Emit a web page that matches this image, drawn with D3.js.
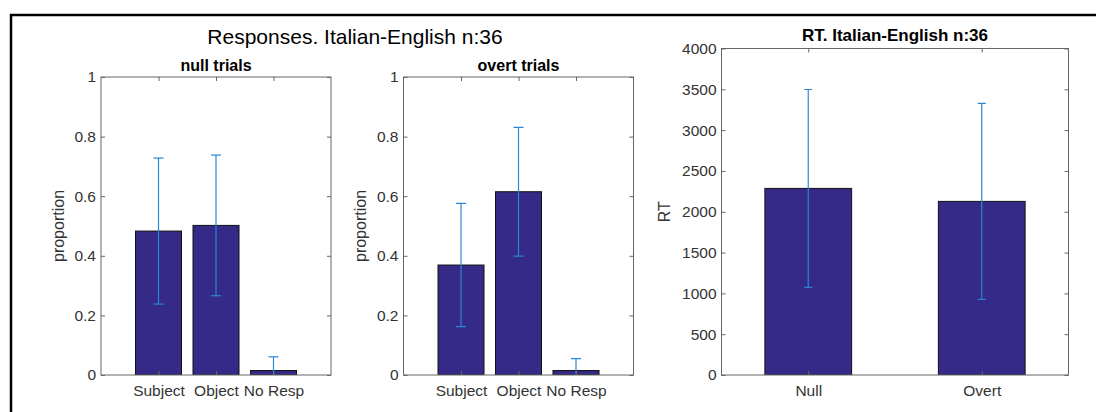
<!DOCTYPE html>
<html>
<head>
<meta charset="utf-8">
<script src="https://cdn.jsdelivr.net/npm/d3@7"></script>
<style>
  html, body { margin: 0; padding: 0; background: #fff; }
  svg { display: block; font-family: "Liberation Sans", Arial, Helvetica, sans-serif; }
</style>
</head>
<body>
<svg id="chart" width="1096" height="412"></svg>
<script>
// Response categories and their proportions (mean ± error)
const respCategories = ["Subject", "Object", "No Resp"];
const nullMeans  = [0.483, 0.502, 0.015];
const nullErr    = [0.245, 0.236, 0.046];
const overtMeans = [0.369, 0.615, 0.015];
const overtErr   = [0.207, 0.216, 0.040];
const propTicks  = [0, 0.2, 0.4, 0.6, 0.8, 1];

// Reaction times by condition
const rtCategories = ["Null", "Overt"];
const rtMeans = [2286, 2127];
const rtErr   = [1212, 1200];
const rtTicks = [0, 500, 1000, 1500, 2000, 2500, 3000, 3500, 4000];

const barFill = "#352a87";
const errColor = "#2b86d6";
const axisColor = "#666";
const textColor = "#333";
const tickFont = 15.5;

const svg = d3.select("#chart");

// outer frame
svg.append("rect")
  .attr("x", 11).attr("y", 15).attr("width", 1100).attr("height", 420)
  .attr("fill", "none").attr("stroke", "#000").attr("stroke-width", 2.5);

svg.append("text")
  .attr("x", 355).attr("y", 44)
  .attr("text-anchor", "middle")
  .attr("font-size", 21)
  .attr("fill", "#000")
  .text("Responses. Italian-English n:36");

function panel(opts) {
  const { left, right, top, bottom, cats, means, errs, xDomain, barWidth,
          yDomain, ticks, title, titleY, titleSize, ylabel, ylabelX, capHalf, tickFmt } = opts;
  const g = svg.append("g");
  const x = d3.scaleLinear().domain(xDomain).range([left, right]);
  const y = d3.scaleLinear().domain(yDomain).range([bottom, top]);
  const clipId = "clip" + Math.round(left);
  svg.append("clipPath").attr("id", clipId)
    .append("rect").attr("x", left).attr("y", top)
    .attr("width", right - left).attr("height", bottom - top);

  const plot = g.append("g").attr("clip-path", `url(#${clipId})`);
  const idx = cats.map((c, i) => i + 1);

  // bars
  plot.selectAll("rect.bar").data(idx).join("rect")
    .attr("class", "bar")
    .attr("x", d => x(d - barWidth / 2))
    .attr("width", d => x(d + barWidth / 2) - x(d - barWidth / 2))
    .attr("y", d => y(means[d - 1]))
    .attr("height", d => y(0) - y(means[d - 1]))
    .attr("fill", barFill)
    .attr("stroke", "#111")
    .attr("stroke-width", 1);

  // error bars
  const eb = plot.selectAll("g.err").data(idx).join("g").attr("class", "err")
    .attr("stroke", errColor).attr("stroke-width", 1.2);
  eb.append("line")
    .attr("x1", d => x(d)).attr("x2", d => x(d))
    .attr("y1", d => y(means[d - 1] + errs[d - 1]))
    .attr("y2", d => y(means[d - 1] - errs[d - 1]));
  eb.append("line")
    .attr("x1", d => x(d) - capHalf).attr("x2", d => x(d) + capHalf)
    .attr("y1", d => y(means[d - 1] + errs[d - 1]))
    .attr("y2", d => y(means[d - 1] + errs[d - 1]));
  eb.append("line")
    .attr("x1", d => x(d) - capHalf).attr("x2", d => x(d) + capHalf)
    .attr("y1", d => y(means[d - 1] - errs[d - 1]))
    .attr("y2", d => y(means[d - 1] - errs[d - 1]));

  // axes with inward ticks on all four sides
  const tl = 4;
  const axL = d3.axisLeft(y).tickValues(ticks).tickSize(-tl).tickPadding(5).tickFormat(tickFmt);
  const axR = d3.axisRight(y).tickValues(ticks).tickSize(-tl).tickFormat("");
  const axB = d3.axisBottom(x).tickValues(idx).tickSize(-tl).tickPadding(10)
    .tickFormat(d => cats[d - 1]);
  const axT = d3.axisTop(x).tickValues(idx).tickSize(-tl).tickFormat("");

  const styleAxis = sel => {
    sel.selectAll("path.domain").attr("stroke", axisColor);
    sel.selectAll(".tick line").attr("stroke", axisColor);
    sel.selectAll(".tick text").attr("fill", textColor)
      .attr("font-size", tickFont).attr("font-family", "Liberation Sans, Arial, sans-serif");
  };
  g.append("g").attr("transform", `translate(${left},0)`).call(axL).call(styleAxis);
  g.append("g").attr("transform", `translate(${right},0)`).call(axR).call(styleAxis);
  g.append("g").attr("transform", `translate(0,${bottom})`).call(axB).call(styleAxis);
  g.append("g").attr("transform", `translate(0,${top})`).call(axT).call(styleAxis);
  g.selectAll("path.domain").attr("d", null);
  g.append("rect").attr("x", left).attr("y", top)
    .attr("width", right - left).attr("height", bottom - top)
    .attr("fill", "none").attr("stroke", axisColor).attr("stroke-width", 1);

  g.append("text")
    .attr("x", (left + right) / 2).attr("y", titleY)
    .attr("text-anchor", "middle").attr("font-weight", "bold")
    .attr("font-size", titleSize).attr("fill", "#000")
    .text(title);

  g.append("text")
    .attr("transform", `translate(${ylabelX},${(top + bottom) / 2}) rotate(-90)`)
    .attr("text-anchor", "middle").attr("font-size", 16).attr("fill", textColor)
    .text(ylabel);
}

const propFmt = d => d === 0 ? "0" : d === 1 ? "1" : d3.format(".1f")(d);

panel({
  left: 101, right: 331, top: 77, bottom: 375,
  cats: respCategories, means: nullMeans, errs: nullErr,
  xDomain: [0, 4], barWidth: 0.8, yDomain: [0, 1], ticks: propTicks,
  title: "null trials", titleY: 71, titleSize: 16, ylabel: "proportion", ylabelX: 64,
  capHalf: 5, tickFmt: propFmt
});

panel({
  left: 403.5, right: 633.5, top: 77, bottom: 375,
  cats: respCategories, means: overtMeans, errs: overtErr,
  xDomain: [0, 4], barWidth: 0.8, yDomain: [0, 1], ticks: propTicks,
  title: "overt trials", titleY: 71, titleSize: 16, ylabel: "proportion", ylabelX: 366,
  capHalf: 5, tickFmt: propFmt
});

panel({
  left: 721.5, right: 1068.5, top: 48.5, bottom: 375,
  cats: rtCategories, means: rtMeans, errs: rtErr,
  xDomain: [0.5, 2.5], barWidth: 0.5, yDomain: [0, 4000], ticks: rtTicks,
  title: "RT. Italian-English n:36", titleY: 41, titleSize: 17, ylabel: "RT", ylabelX: 670,
  capHalf: 4, tickFmt: d => String(d)
});
</script>
</body>
</html>
